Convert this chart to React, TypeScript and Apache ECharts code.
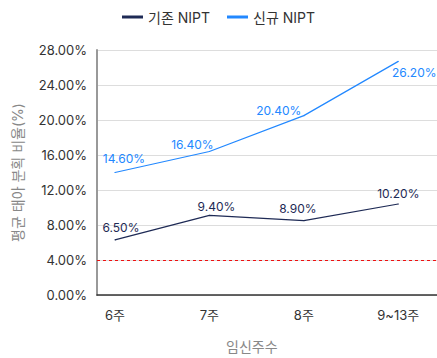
import React, { useEffect, useRef } from "react";
import * as echarts from "echarts";

const categories = ["6주", "7주", "8주", "9~13주"];
const seriesNames = ["기존 NIPT", "신규 NIPT"];
// plotted values
const oldValues = [6.3, 9.1, 8.5, 10.4];
const newValues = [14.0, 16.4, 20.5, 26.7];
// value labels as printed on the chart
const oldLabels = ["6.50%", "9.40%", "8.90%", "10.20%"];
const newLabels = ["14.60%", "16.40%", "20.40%", "26.20%"];
const thresholdValue = 4;
const yMax = 28;
const yInterval = 4;

// label offsets (styling)
const oldLabelOffsets = [[6, -12], [7, -9], [-6, -12], [0, -11]];
const newLabelOffsets = [[9, -14], [-17, -7], [-25, -5], [16, 11]];

const FONT = "Inter, 'Noto Sans CJK KR', sans-serif";
const OLD_COLOR = "#1e2a55";
const NEW_COLOR = "#2288ff";

export default function App() {
  const ref = useRef<HTMLDivElement>(null);
  useEffect(() => {
    if (!ref.current) return;
    const chart = echarts.init(ref.current, undefined, { renderer: "svg" });
    const mk = (vals: number[], labels: string[], offs: number[][]) =>
      vals.map((v, i) => ({
        value: [i, v],
        label: { formatter: labels[i], offset: offs[i] },
      }));
    chart.setOption({
      animation: false,
      textStyle: { fontFamily: FONT },
      legend: {
        top: 5,
        left: "center",
        itemWidth: 21,
        itemHeight: 3,
        itemGap: 17,
        icon: "rect",
        textStyle: { fontSize: 14, color: "#333", fontFamily: FONT },
        data: seriesNames,
      },
      grid: { left: 97, right: 0, top: 50, bottom: 63 },
      xAxis: {
        type: "value",
        min: -0.19,
        max: 3.41,
        splitLine: { show: false },
        axisTick: { show: false },
        axisLine: { show: true, lineStyle: { color: "#333", width: 1.5 } },
        axisLabel: {
          customValues: [0, 1, 2, 3],
          formatter: (v: number) => categories[Math.round(v)] ?? "",
          fontSize: 13,
          color: "#333",
          margin: 13,
          fontFamily: FONT,
        },
      },
      yAxis: {
        type: "value",
        min: 0,
        max: yMax,
        interval: yInterval,
        name: "평균 태아 분획 비율(%)",
        nameLocation: "middle",
        nameGap: 73,
        nameTextStyle: { fontSize: 14, color: "#888", fontFamily: FONT },
        axisLine: { show: true, onZero: false, lineStyle: { color: "#999", width: 2 } },
        axisTick: { show: false },
        splitLine: { lineStyle: { color: "#dddddd" } },
        axisLabel: {
          formatter: (v: number) => v.toFixed(2) + "%",
          fontSize: 13,
          color: "#333",
          margin: 10,
          fontFamily: FONT,
        },
      },
      graphic: [
        {
          type: "text",
          left: 256 - 30,
          top: 339,
          style: { text: "임신주수", fill: "#888", font: `14px ${FONT}`, width: 60, align: "center" },
        },
      ],
      series: [
        {
          name: seriesNames[0],
          type: "line",
          color: OLD_COLOR,
          data: mk(oldValues, oldLabels, oldLabelOffsets),
          symbol: "circle",
          symbolSize: 1,
          lineStyle: { color: OLD_COLOR, width: 1.2 },
          itemStyle: { color: OLD_COLOR },
          label: { show: true, position: "inside", fontSize: 12, color: OLD_COLOR, fontFamily: FONT },
          markLine: {
            silent: true,
            symbol: ["none", "none"],
            label: { show: false },
            lineStyle: { color: "#ee1111", type: [3, 3], width: 1 },
            data: [{ yAxis: thresholdValue }],
          },
        },
        {
          name: seriesNames[1],
          type: "line",
          color: NEW_COLOR,
          data: mk(newValues, newLabels, newLabelOffsets),
          symbol: "circle",
          symbolSize: 1,
          lineStyle: { color: NEW_COLOR, width: 1.2 },
          itemStyle: { color: NEW_COLOR },
          label: { show: true, position: "inside", fontSize: 12, color: NEW_COLOR, fontFamily: FONT },
        },
      ],
    });
    return () => chart.dispose();
  }, []);
  return (
    <div
      ref={ref}
      style={{ position: "fixed", left: 0, top: 0, width: 437, height: 358, background: "#fff" }}
    />
  );
}
